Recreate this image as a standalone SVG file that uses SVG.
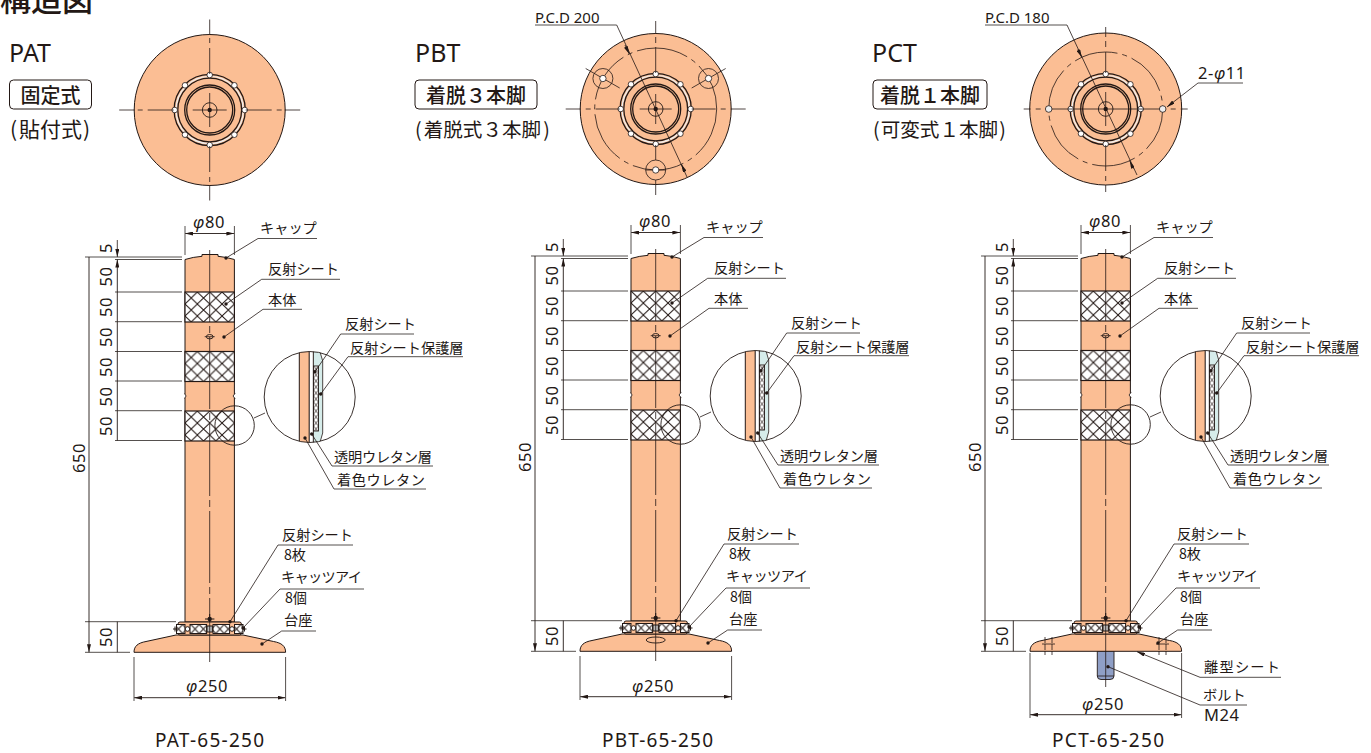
<svg xmlns="http://www.w3.org/2000/svg" width="1371" height="753" viewBox="0 0 1371 753">
<style>
text{font-family:"Noto Sans CJK JP","Noto Sans",sans-serif;fill:#231815;font-size:14.2px}
.n{font-family:"Noto Sans","Noto Sans CJK JP",sans-serif;font-size:16.5px;letter-spacing:.6px}
.p{font-family:"Noto Sans","Noto Sans CJK JP",sans-serif;font-size:15px}
.h{font-size:25px;font-family:"Noto Sans","Noto Sans CJK JP",sans-serif}
.k{font-size:19.6px}
.b{font-size:20px;font-weight:500}
.c{font-family:"Noto Sans","Noto Sans CJK JP",sans-serif;font-size:19px}
.i{font-style:italic}
.m{text-anchor:middle}
.o{fill:#fbbe94;stroke:#231815;stroke-width:1}
.l{fill:none;stroke:#231815;stroke-width:.9}
.t{fill:none;stroke:#231815;stroke-width:.8}
.g{fill:none;stroke:#55504e;stroke-width:1}
.ld{fill:none;stroke:#231815;stroke-width:.8;marker-end:url(#d)}
.u{fill:none;stroke:#55504e;stroke-width:1}
.da{fill:none;stroke:#231815;stroke-width:.9;marker-start:url(#a);marker-end:url(#a)}
.ar{fill:none;stroke:#231815;stroke-width:.8;marker-end:url(#a)}
.r{fill:none;stroke:#231815;stroke-width:1.3}
</style>
<defs>
<marker id="a" viewBox="0 0 8 4" refX="8" refY="2" markerWidth="8" markerHeight="4" orient="auto-start-reverse" markerUnits="userSpaceOnUse"><path d="M0 0L8 2L0 4Z" fill="#231815"/></marker>
<marker id="d" viewBox="-2 -2 4 4" refX="0" refY="0" markerWidth="4" markerHeight="4" markerUnits="userSpaceOnUse"><circle r="1.7" fill="#231815"/></marker>
<pattern id="hx" patternUnits="userSpaceOnUse" x="185" y="292" width="12.35" height="12"><rect width="12.35" height="12" fill="#fff"/><path d="M0 0L12.35 12M12.35 0L0 12" stroke="#231815" stroke-width="1"/></pattern>
<pattern id="hs" patternUnits="userSpaceOnUse" x="0" y="624.5" width="8.3" height="9"><rect width="8.3" height="9" fill="#fff"/><path d="M0 0L8.3 9M8.3 0L0 9" stroke="#231815" stroke-width="1"/></pattern>
<pattern id="hd" patternUnits="userSpaceOnUse" x="313.5" y="366" width="5" height="6"><rect width="5" height="6" fill="#fff"/><path d="M0 0L5 6M5 0L0 6" stroke="#231815" stroke-width=".8"/></pattern>
<clipPath id="dc"><circle cx="309.7" cy="397" r="45.5"/></clipPath>
<g id="hub">
<circle r="35.6" class="r"/>
<circle r="33.6" fill="none" stroke="#eee" stroke-width="1.3"/>
<circle r="31.9" class="r"/>
<circle r="25" class="r"/><circle r="23" class="r"/>
<circle r="7.3" class="l"/><circle r="2.2" fill="#231815"/>
<g fill="#fff" stroke="#231815" stroke-width=".8">
<circle cx="35" cy="0" r="2.8"/><circle cx="24.7" cy="24.7" r="2.8"/><circle cx="0" cy="35" r="2.8"/><circle cx="-24.7" cy="24.7" r="2.8"/><circle cx="-35" cy="0" r="2.8"/><circle cx="-24.7" cy="-24.7" r="2.8"/><circle cx="0" cy="-35" r="2.8"/><circle cx="24.7" cy="-24.7" r="2.8"/>
</g>
</g>
<rect id="band" x="185" y="292" width="49.4" height="30" fill="url(#hx)" stroke="#231815" stroke-width="1.2"/>
<g id="post">
<path class="o" d="M185 622V259.5Q193 257 202 256.3V254.5H218V256.3Q226 257 234.4 259.5V622Z"/>
<use href="#band"/><use href="#band" y="59.5"/><use href="#band" y="119"/>
<path d="M184 393.5Q188 396 184 398.5M235.4 393.5Q231 396 235.4 398.5" fill="#fff" stroke="#231815" stroke-width=".8"/>
<path class="o" d="M134 652.3C134 646 138 643 146 641.5L176 635H243L273.6 641.5C281.6 643 285.6 646 285.6 652.3Z"/>
<rect class="o" x="178" y="622" width="63.4" height="13" rx="2"/>
<g stroke="#231815" stroke-width="1">
<rect x="176.5" y="624.5" width="8.5" height="9" fill="url(#hs)"/>
<rect x="190" y="624.5" width="16.6" height="9" fill="url(#hs)"/>
<rect x="213" y="624.5" width="16.6" height="9" fill="url(#hs)"/>
<rect x="234.5" y="624.5" width="8.5" height="9" fill="url(#hs)"/>
<circle cx="187.5" cy="629" r="2.3" fill="#fff"/><circle cx="232" cy="629" r="2.3" fill="#fff"/>
<rect x="207" y="626" width="5.4" height="6" fill="#bbb"/>
<path d="M173 629H177M242.5 629H246.5M175 626.5V631.5M244.5 626.5V631.5"/>
<path d="M205 619H214.4M209.7 614V622"/>
</g>
<circle cx="209.7" cy="619" r="2.2" fill="#231815"/>
<path class="t" stroke-dasharray="72 4 7 4" d="M209.7 250V662"/>
<ellipse cx="209.7" cy="336.7" rx="3.4" ry="2.2" class="l"/><path class="t" d="M204.7 336.7H214.7"/>
<circle cx="234.6" cy="425.5" r="19.7" class="l"/>
<path class="t" d="M254 418L265 413"/>
<circle cx="309.7" cy="397" r="45.5" fill="#fff"/>
<g clip-path="url(#dc)">
<rect class="o" x="299.3" y="345" width="10" height="105"/>
<path d="M313.3 345H318L322.7 361V433L318 449H313.3Z" fill="#d6ecea" stroke="#231815" stroke-width=".8"/>
<path d="M309.3 345H313.3V449H309.3Z" fill="#fff" stroke="#231815" stroke-width=".8"/>
<rect x="313.5" y="366" width="5" height="65" fill="url(#hd)" stroke="#231815" stroke-width=".9"/>
</g>
<circle cx="309.7" cy="397" r="45.5" class="l"/>
</g>
<g id="stack" class="g">
<path d="M85 257H182M115 259.5H182M115 292H182M115 321.7H182M115 351.5H182M115 381H182M115 410.7H182M115 440.5H182M85 621.7H176M85 652.3H130"/>
<path class="da" d="M185 233.5H234.4"/>
<path d="M185 226V255M234.4 226V255"/>
<path class="ar" d="M117.3 240V257"/>
<path class="da" d="M117.3 259.5V292M117.3 292V321.7M117.3 321.7V351.5M117.3 351.5V381M117.3 381V410.7M117.3 410.7V440.5M117.3 621.7V652.3M89 257V652.3"/>
</g>
<g id="bottomdim" class="g"><path class="da" d="M134 697.7H285.6"/><path d="M134 657V701M285.6 657V701"/></g>
<g id="leaders">
<path class="u" d="M258 238.5H317M261.7 279.3H340M263 309.3H302M340.7 334H414M348 356.7H463M332 466H433M334 489H426M278 545H353M280 589H364M281.7 631H316"/>
<path class="ld" d="M258 238.5L226 258"/>
<path class="ld" d="M261.7 279.3L226 304"/>
<path class="ld" d="M263 309.3L224 337"/>
<path class="ld" d="M340.7 334L315 371.7"/>
<path class="ld" d="M348 356.7L320.7 394"/>
<path class="ld" d="M332 466L311.7 434"/>
<path class="ld" d="M334 489L305 438"/>
<path class="ld" d="M278 545L230 621.7"/>
<path class="ld" d="M280 589L243 628"/>
<path class="ld" d="M281.7 631L262 644"/>
</g>
</defs>

<text x="0" y="11" style="font-size:31px;font-weight:500">構造図</text>

<g id="top-pat">
<circle class="o" cx="209.7" cy="110" r="75.5"/>
<g transform="translate(209.7 110)"><use href="#hub"/>
<path class="t" d="M-90.5 0H-75M-72 0H-67M-62 0H-36M-17 0H17M36 0H62M67 0H72M75 0H90.5M0 -90.5V-75M0 -72V-67M0 -62V-36M0 -17V17M0 36V62M0 67V72M0 75V90.5"/></g>
<text class="h" x="9" y="62">PAT</text>
<rect x="9.5" y="80" width="82" height="29" rx="4" fill="#fff" stroke="#231815"/>
<text class="b m" x="50.5" y="102.5">固定式</text>
<text class="k" x="10" y="137" style="font-size:21px">(<tspan dx="2">貼付式</tspan><tspan dx="1">)</tspan></text>
</g>

<g id="top-pbt">
<circle class="o" cx="655.7" cy="109" r="75.5"/>
<g transform="translate(655.7 109)">
<circle r="61" class="t" stroke-dasharray="52 5 5 5"/>
<use href="#hub"/>
<path class="t" d="M-90 0H-75M-70 0H-65M-60 0H-36M-16 0H16M36 0H60M65 0H70M75 0H90M0 -88V-75M0 -72V-66M0 -62V-36M0 -15V15M0 36V51M0 71V86"/>
<g class="t">
<circle cx="-52.8" cy="-30.5" r="10"/><path d="M-70 -40.5L-36 -21"/>
<circle cx="52.8" cy="-30.5" r="10"/><path d="M70 -40.5L36 -21"/>
<circle cx="0" cy="61" r="10"/><path d="M-10 61H10"/>
</g>
<g fill="#fff" stroke="#231815" stroke-width=".8"><circle cx="-52.8" cy="-30.5" r="3.2"/><circle cx="52.8" cy="-30.5" r="3.2"/><circle cx="0" cy="61" r="3.2"/></g>
</g>
<text class="h" x="415" y="62">PBT</text>
<rect x="415" y="80" width="122" height="29" rx="4" fill="#fff" stroke="#231815"/>
<text class="b m" x="476" y="102.5">着脱&#xFF13;本脚</text>
<text class="k" x="415" y="137">(<tspan dx="2">着脱式&#xFF13;本脚</tspan><tspan dx="2">)</tspan></text>
<text class="p" x="535" y="22.5">P.C.D 200</text>
</g>

<g id="top-pct">
<circle class="o" cx="1105.7" cy="109" r="76"/>
<g transform="translate(1105.7 109)">
<circle r="57" class="t" stroke-dasharray="44 5 5 5"/>
<use href="#hub"/>
<path class="t" d="M-82 0H-75M-70 0H-65M-60 0H60M65 0H70M75 0H82M0 -82V-72M0 -68V-62M0 -57V-36M0 -17V17M0 36V62M0 67V72M0 76V83"/>
<g fill="#eee" stroke="#231815" stroke-width=".8"><circle cx="-57" r="3.3"/><circle cx="57" r="3.3"/></g>
</g>
<text class="h" x="872" y="62">PCT</text>
<rect x="873" y="80" width="114" height="29" rx="4" fill="#fff" stroke="#231815"/>
<text class="b m" x="930" y="102.5">着脱&#xFF11;本脚</text>
<text class="k" x="873" y="137">(<tspan dx="1">可変式&#xFF11;本脚</tspan><tspan dx="1">)</tspan></text>
<text class="p" x="985" y="22.5">P.C.D 180</text>
<text class="n" x="1198" y="79">2-<tspan class="i">φ</tspan>11</text>
</g>

<g id="side-pat">
<use href="#post"/>
<text class="n" x="193" y="228"><tspan class="i">φ</tspan>80</text>
<text class="n m" transform="translate(112 248) rotate(-90)">5</text>
<text class="n m" transform="translate(112 276.5) rotate(-90)">50</text>
<text class="n m" transform="translate(112 307) rotate(-90)">50</text>
<text class="n m" transform="translate(112 337) rotate(-90)">50</text>
<text class="n m" transform="translate(112 367) rotate(-90)">50</text>
<text class="n m" transform="translate(112 396.5) rotate(-90)">50</text>
<text class="n m" transform="translate(112 426) rotate(-90)">50</text>
<text class="n m" transform="translate(112 637) rotate(-90)">50</text>
<text class="n m" transform="translate(85 458) rotate(-90)">650</text>
<text class="n" x="186" y="692"><tspan class="i">φ</tspan>250</text>
<text x="260" y="232.5">キャップ</text><text x="268" y="273.5">反射シート</text><text x="268" y="305">本体</text>
<text x="345" y="329">反射シート</text><text x="350" y="352.5">反射シート保護層</text>
<text x="334" y="461.5" textLength="98">透明ウレタン層</text><text x="337" y="484.5" textLength="88">着色ウレタン</text>
<text x="282" y="540">反射シート</text><text x="284" y="560">8枚</text>
<text x="281" y="582" textLength="81">キャッツアイ</text><text x="285" y="603">8個</text><text x="284" y="625">台座</text>
<text class="c" x="155" y="747" textLength="109">PAT-65-250</text>
</g>

<g id="side-pbt" transform="translate(446 -1)">
<use href="#post"/>
<ellipse cx="209.7" cy="641" rx="9.5" ry="3" class="l"/>
<text class="n" x="193" y="228"><tspan class="i">φ</tspan>80</text>
<text class="n m" transform="translate(112 248) rotate(-90)">5</text>
<text class="n m" transform="translate(112 276.5) rotate(-90)">50</text>
<text class="n m" transform="translate(112 307) rotate(-90)">50</text>
<text class="n m" transform="translate(112 337) rotate(-90)">50</text>
<text class="n m" transform="translate(112 367) rotate(-90)">50</text>
<text class="n m" transform="translate(112 396.5) rotate(-90)">50</text>
<text class="n m" transform="translate(112 426) rotate(-90)">50</text>
<text class="n m" transform="translate(112 637) rotate(-90)">50</text>
<text class="n m" transform="translate(85 458) rotate(-90)">650</text>
<text class="n" x="186" y="693"><tspan class="i">φ</tspan>250</text>
<text x="260" y="232.5">キャップ</text><text x="268" y="273.5">反射シート</text><text x="268" y="305">本体</text>
<text x="345" y="329">反射シート</text><text x="350" y="352.5">反射シート保護層</text>
<text x="334" y="461.5" textLength="98">透明ウレタン層</text><text x="337" y="484.5" textLength="88">着色ウレタン</text>
<text x="281" y="540">反射シート</text><text x="283" y="560">8枚</text>
<text x="280" y="582" textLength="82">キャッツアイ</text><text x="284" y="603">8個</text><text x="283" y="625">台座</text>
<text class="c" x="156" y="748" textLength="111">PBT-65-250</text>
</g>

<g id="side-pct" transform="translate(896 -1)">
<path d="M201.3 652H218V677Q218 680.5 214 680.5H205Q201.3 680.5 201.3 677Z" fill="#8f9fc6" stroke="#231815" stroke-width=".9"/>
<path class="t" d="M201.3 677H218"/>
<use href="#post"/>
<g class="t" stroke-dasharray="6 1"><path d="M149 638V656M156 638V656M263 638V656M270 638V656"/></g>
<path class="t" d="M146 645H159M260 645H273"/>
<path class="t" d="M209.7 662V688"/>
<text class="n" x="186" y="711"><tspan class="i">φ</tspan>250</text>
<text class="n" x="193" y="228"><tspan class="i">φ</tspan>80</text>
<text class="n m" transform="translate(112 248) rotate(-90)">5</text>
<text class="n m" transform="translate(112 276.5) rotate(-90)">50</text>
<text class="n m" transform="translate(112 307) rotate(-90)">50</text>
<text class="n m" transform="translate(112 337) rotate(-90)">50</text>
<text class="n m" transform="translate(112 367) rotate(-90)">50</text>
<text class="n m" transform="translate(112 396.5) rotate(-90)">50</text>
<text class="n m" transform="translate(112 426) rotate(-90)">50</text>
<text class="n m" transform="translate(112 637) rotate(-90)">50</text>
<text class="n m" transform="translate(85 458) rotate(-90)">650</text>
<text x="260" y="232.5">キャップ</text><text x="268" y="273.5">反射シート</text><text x="268" y="305">本体</text>
<text x="345" y="329">反射シート</text><text x="350" y="352.5">反射シート保護層</text>
<text x="334" y="461.5" textLength="98">透明ウレタン層</text><text x="337" y="484.5" textLength="88">着色ウレタン</text>
<text x="281" y="540">反射シート</text><text x="283" y="560">8枚</text>
<text x="281" y="582" textLength="81">キャッツアイ</text><text x="284" y="603">8個</text><text x="284" y="625">台座</text>
<text x="308" y="672.5" textLength="76">離型シート</text><text x="307" y="701">ボルト</text>
<text class="n" x="308" y="722">M24</text>
<text class="c" x="156" y="748" textLength="112">PCT-65-250</text>
</g>

<g id="connectors">
<use href="#stack"/><use href="#leaders"/><use href="#bottomdim"/>
<g transform="translate(446 -1)"><use href="#stack"/><use href="#leaders"/><use href="#bottomdim"/></g>
<g transform="translate(896 -1)"><use href="#stack"/><use href="#leaders"/>
<g class="g"><path class="da" d="M134 715.7H285.6"/><path d="M134 654V719M285.6 654V719"/></g>
<path class="u" d="M304 678.3H385M304 706H351"/>
<path class="ar" d="M304 678.3L241 652.7"/>
<path class="ld" d="M304 706L212 667.7"/>
</g>
<path class="u" d="M535 25H616.7"/>
<path class="t" d="M616.7 25L687 177"/>
<path class="ar" d="M625 45L629.3 54"/>
<path class="ar" d="M685 172L681.4 164.3"/>
<path class="u" d="M985 25H1067"/>
<path class="t" d="M1067 25L1137 175"/>
<path class="ar" d="M1078 49.3L1081.7 57.3"/>
<path class="ar" d="M1133.3 168.7L1129.7 160.7"/>
<path class="u" d="M1198 83H1243"/>
<path class="ar" d="M1198 83L1167 107"/>
</g>
</svg>
